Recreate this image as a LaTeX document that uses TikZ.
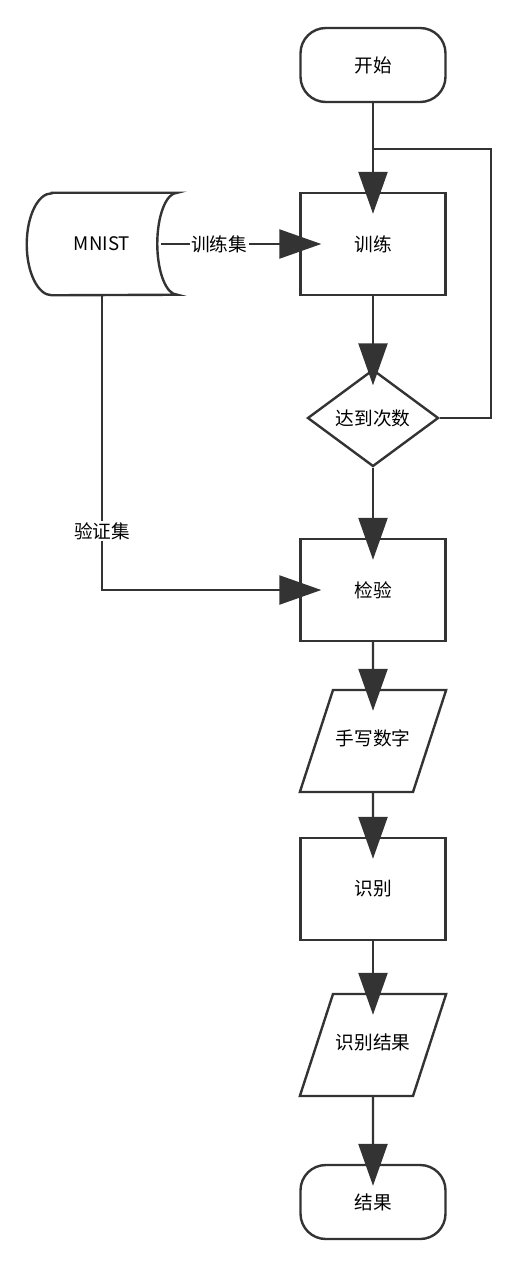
\documentclass[tikz,border=0pt]{standalone}
\usepackage{fontspec}
\setmainfont{Noto Sans CJK SC}
\usetikzlibrary{shapes.geometric, arrows.meta, calc}
\definecolor{linegray}{HTML}{333333}
\tikzstyle{startstop} = [rectangle, rounded corners=19pt, minimum width=108.75pt, minimum height=55.5pt, text centered, draw=linegray, line width=1.8pt]
\tikzstyle{process} = [rectangle, minimum width=108.75pt, minimum height=76.5pt, text centered, draw=linegray, line width=1.8pt]
\tikzstyle{decision} = [diamond, minimum width=98.25pt, minimum height=72.75pt, inner sep=0pt, text centered, draw=linegray, line width=1.8pt]
\tikzstyle{io} = [trapezium, trapezium left angle=72, trapezium right angle=108, text width=60pt, inner xsep=0pt, text height=10pt, text depth=3pt, inner ysep=31.75pt, align=center, draw=linegray, line width=1.8pt]
\tikzstyle{store} = [rectangle, minimum width=112.5pt, minimum height=76.5pt]
\tikzstyle{line} = [line width=1.8pt, draw=linegray]
\tikzstyle{arrow} = [line, -{Triangle[length=31.5pt,width=21.75pt]}, shorten >=-16.5pt]
\tikzstyle{tag} = [fill=white, inner sep=1pt]

\begin{document}
\begin{tikzpicture}[x=0.75pt, y=-0.75pt, node distance=130.5pt, font=\fontsize{14pt}{16pt}\selectfont]
\useasboundingbox (0,0) rectangle (519,1268);

\node (start) [startstop] at (373,65) {开始};
\node (train) [process, below of=start, yshift=-3.75pt] {训练};
\node (judge) [decision, below of=train] {达到次数};
\node (check) [process, below of=judge, yshift=1.5pt] {检验};
\node (hand) [io, below of=check, yshift=17.25pt] {手写数字};
\node (recog) [process, below of=hand, yshift=19.5pt] {识别};
\node (result) [io, below of=recog, yshift=13.5pt] {识别结果};
\node (stop) [startstop, below of=result, yshift=12.75pt] {结果};

%%% data store on the left
\node (mnist) [store, left of=train, xshift=-72.75pt] {MNIST};
\draw [line] ([xshift=18.75pt]mnist.north west) -- (mnist.north east)
  arc[start angle=90, end angle=270, x radius=15pt, y radius=38.25pt]
  -- ([xshift=18.75pt]mnist.south west)
  arc[start angle=270, end angle=90, x radius=18.75pt, y radius=38.25pt] -- cycle;

\coordinate (merge) at ($(start.south)!0.52!(train.north)$);

\draw [arrow] (start) -- (train);
\draw [arrow, shorten >=-12.75pt] (train) -- (judge);
\draw [line] (judge.east) -- ++(51,0) |- (merge);
\draw [arrow] (judge) -- (check);
\draw [arrow] ([xshift=-12pt]mnist.east) -- node[tag, pos=0.42] {训练集} (train);
\draw [arrow] (mnist.south) |- node[tag, pos=0.4] {验证集} (check);
\draw [arrow] (check) -- (hand);
\draw [arrow] (hand) -- (recog);
\draw [arrow] (recog) -- (result);
\draw [arrow] (result) -- (stop);

\end{tikzpicture}
\end{document}
